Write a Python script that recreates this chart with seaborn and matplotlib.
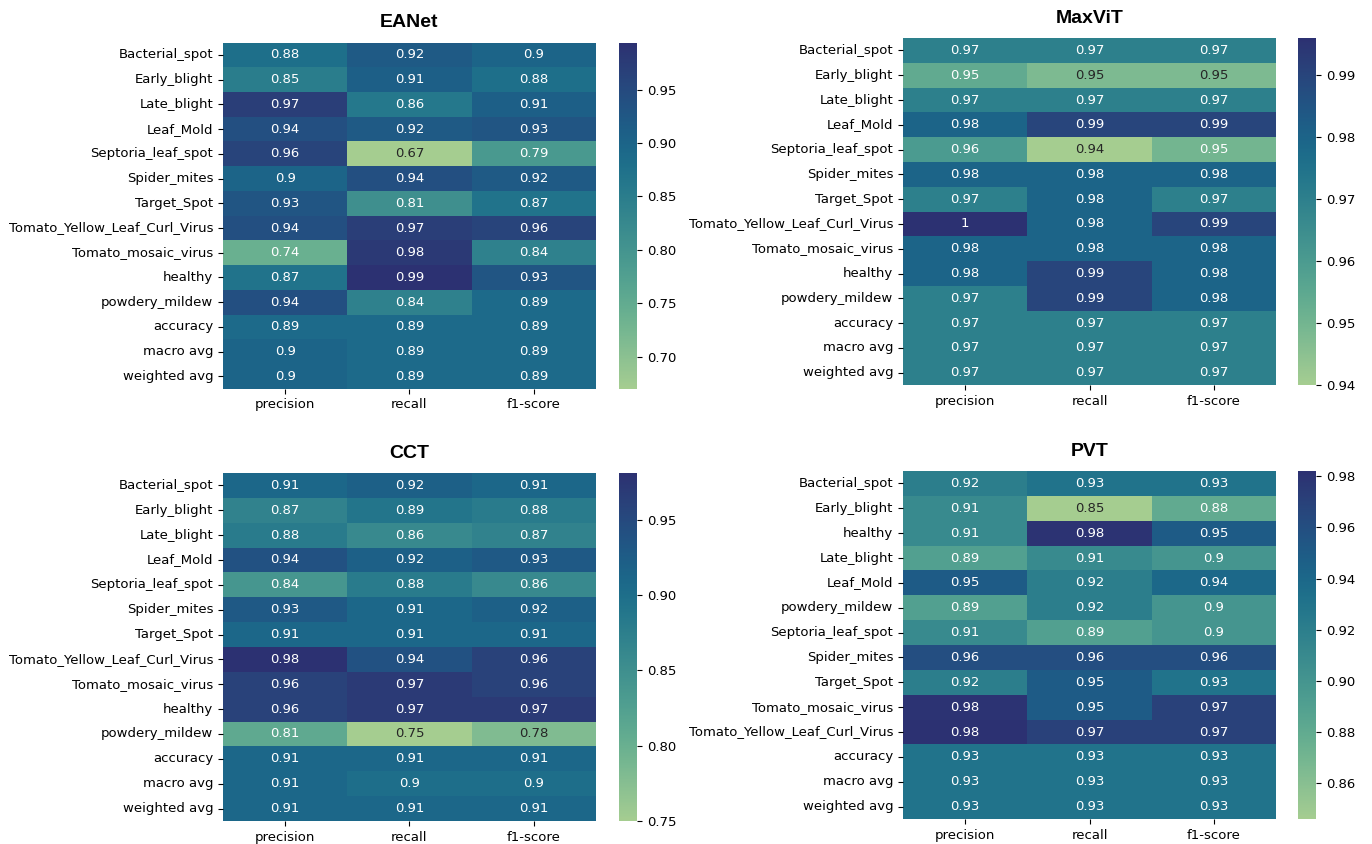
import numpy as np
import pandas as pd
import matplotlib
matplotlib.use("Agg")
import matplotlib.pyplot as plt
import seaborn as sns

metrics = ["precision", "recall", "f1-score"]

classes_a = ["Bacterial_spot", "Early_blight", "Late_blight", "Leaf_Mold",
             "Septoria_leaf_spot", "Spider_mites", "Target_Spot",
             "Tomato_Yellow_Leaf_Curl_Virus", "Tomato_mosaic_virus", "healthy",
             "powdery_mildew", "accuracy", "macro avg", "weighted avg"]

classes_pvt = ["Bacterial_spot", "Early_blight", "healthy", "Late_blight",
               "Leaf_Mold", "powdery_mildew", "Septoria_leaf_spot", "Spider_mites",
               "Target_Spot", "Tomato_mosaic_virus", "Tomato_Yellow_Leaf_Curl_Virus",
               "accuracy", "macro avg", "weighted avg"]

# EANet
eanet_precision = [0.88, 0.85, 0.97, 0.94, 0.96, 0.90, 0.93, 0.94, 0.74, 0.87, 0.94, 0.89, 0.90, 0.90]
eanet_recall    = [0.92, 0.91, 0.86, 0.92, 0.67, 0.94, 0.81, 0.97, 0.98, 0.994, 0.84, 0.89, 0.89, 0.89]
eanet_f1        = [0.90, 0.88, 0.91, 0.93, 0.79, 0.92, 0.87, 0.96, 0.84, 0.93, 0.89, 0.89, 0.89, 0.89]

# MaxViT
maxvit_precision = [0.97, 0.954, 0.97, 0.98, 0.96, 0.98, 0.97, 0.996, 0.98, 0.98, 0.97, 0.97, 0.97, 0.97]
maxvit_recall    = [0.97, 0.948, 0.97, 0.99, 0.94, 0.98, 0.98, 0.98, 0.98, 0.99, 0.99, 0.97, 0.97, 0.97]
maxvit_f1        = [0.97, 0.948, 0.97, 0.99, 0.95, 0.98, 0.97, 0.99, 0.98, 0.98, 0.98, 0.97, 0.97, 0.97]

# CCT
cct_precision = [0.91, 0.87, 0.88, 0.94, 0.84, 0.93, 0.91, 0.981, 0.96, 0.96, 0.81, 0.91, 0.91, 0.91]
cct_recall    = [0.92, 0.89, 0.86, 0.92, 0.88, 0.91, 0.91, 0.94, 0.97, 0.97, 0.75, 0.91, 0.90, 0.91]
cct_f1        = [0.91, 0.88, 0.87, 0.93, 0.86, 0.92, 0.91, 0.96, 0.96, 0.97, 0.78, 0.91, 0.90, 0.91]

# PVT
pvt_precision = [0.92, 0.91, 0.91, 0.89, 0.95, 0.89, 0.91, 0.96, 0.92, 0.98, 0.982, 0.93, 0.93, 0.93]
pvt_recall    = [0.93, 0.846, 0.98, 0.91, 0.92, 0.92, 0.89, 0.96, 0.95, 0.95, 0.97, 0.93, 0.93, 0.93]
pvt_f1        = [0.93, 0.88, 0.95, 0.90, 0.94, 0.90, 0.90, 0.96, 0.93, 0.97, 0.97, 0.93, 0.93, 0.93]


def report(index, p, r, f):
    return pd.DataFrame({"precision": p, "recall": r, "f1-score": f}, index=index)[metrics]


panels = [
    ("EANet", report(classes_a, eanet_precision, eanet_recall, eanet_f1),
     [0.1625, 0.5395, 0.2719, 0.4100], [0.4512, 0.5395, 0.0131, 0.4100]),
    ("MaxViT", report(classes_a, maxvit_precision, maxvit_recall, maxvit_f1),
     [0.6582, 0.5438, 0.2719, 0.4111], [0.9461, 0.5438, 0.0131, 0.4111]),
    ("CCT", report(classes_a, cct_precision, cct_recall, cct_f1),
     [0.1625, 0.0273, 0.2719, 0.4123], [0.4512, 0.0273, 0.0131, 0.4123]),
    ("PVT", report(classes_pvt, pvt_precision, pvt_recall, pvt_f1),
     [0.6582, 0.0296, 0.2719, 0.4123], [0.9461, 0.0296, 0.0131, 0.4123]),
]

label_size = 9.5

fig = plt.figure(figsize=(13.72, 8.44), dpi=100)

for title, df, ax_rect, cb_rect in panels:
    ax = fig.add_axes(ax_rect)
    cax = fig.add_axes(cb_rect)
    sns.heatmap(df, annot=True, cmap="crest", ax=ax, cbar_ax=cax,
                annot_kws={"size": label_size})
    ax.set_title(title, fontsize=14, fontweight="bold",
                 family=["Liberation Sans", "DejaVu Sans"], pad=11)
    ax.tick_params(axis="y", labelrotation=0, labelsize=label_size)
    ax.tick_params(axis="x", labelrotation=0, labelsize=label_size)
    cax.tick_params(labelsize=label_size)

fig.savefig("out.png", dpi=100)
